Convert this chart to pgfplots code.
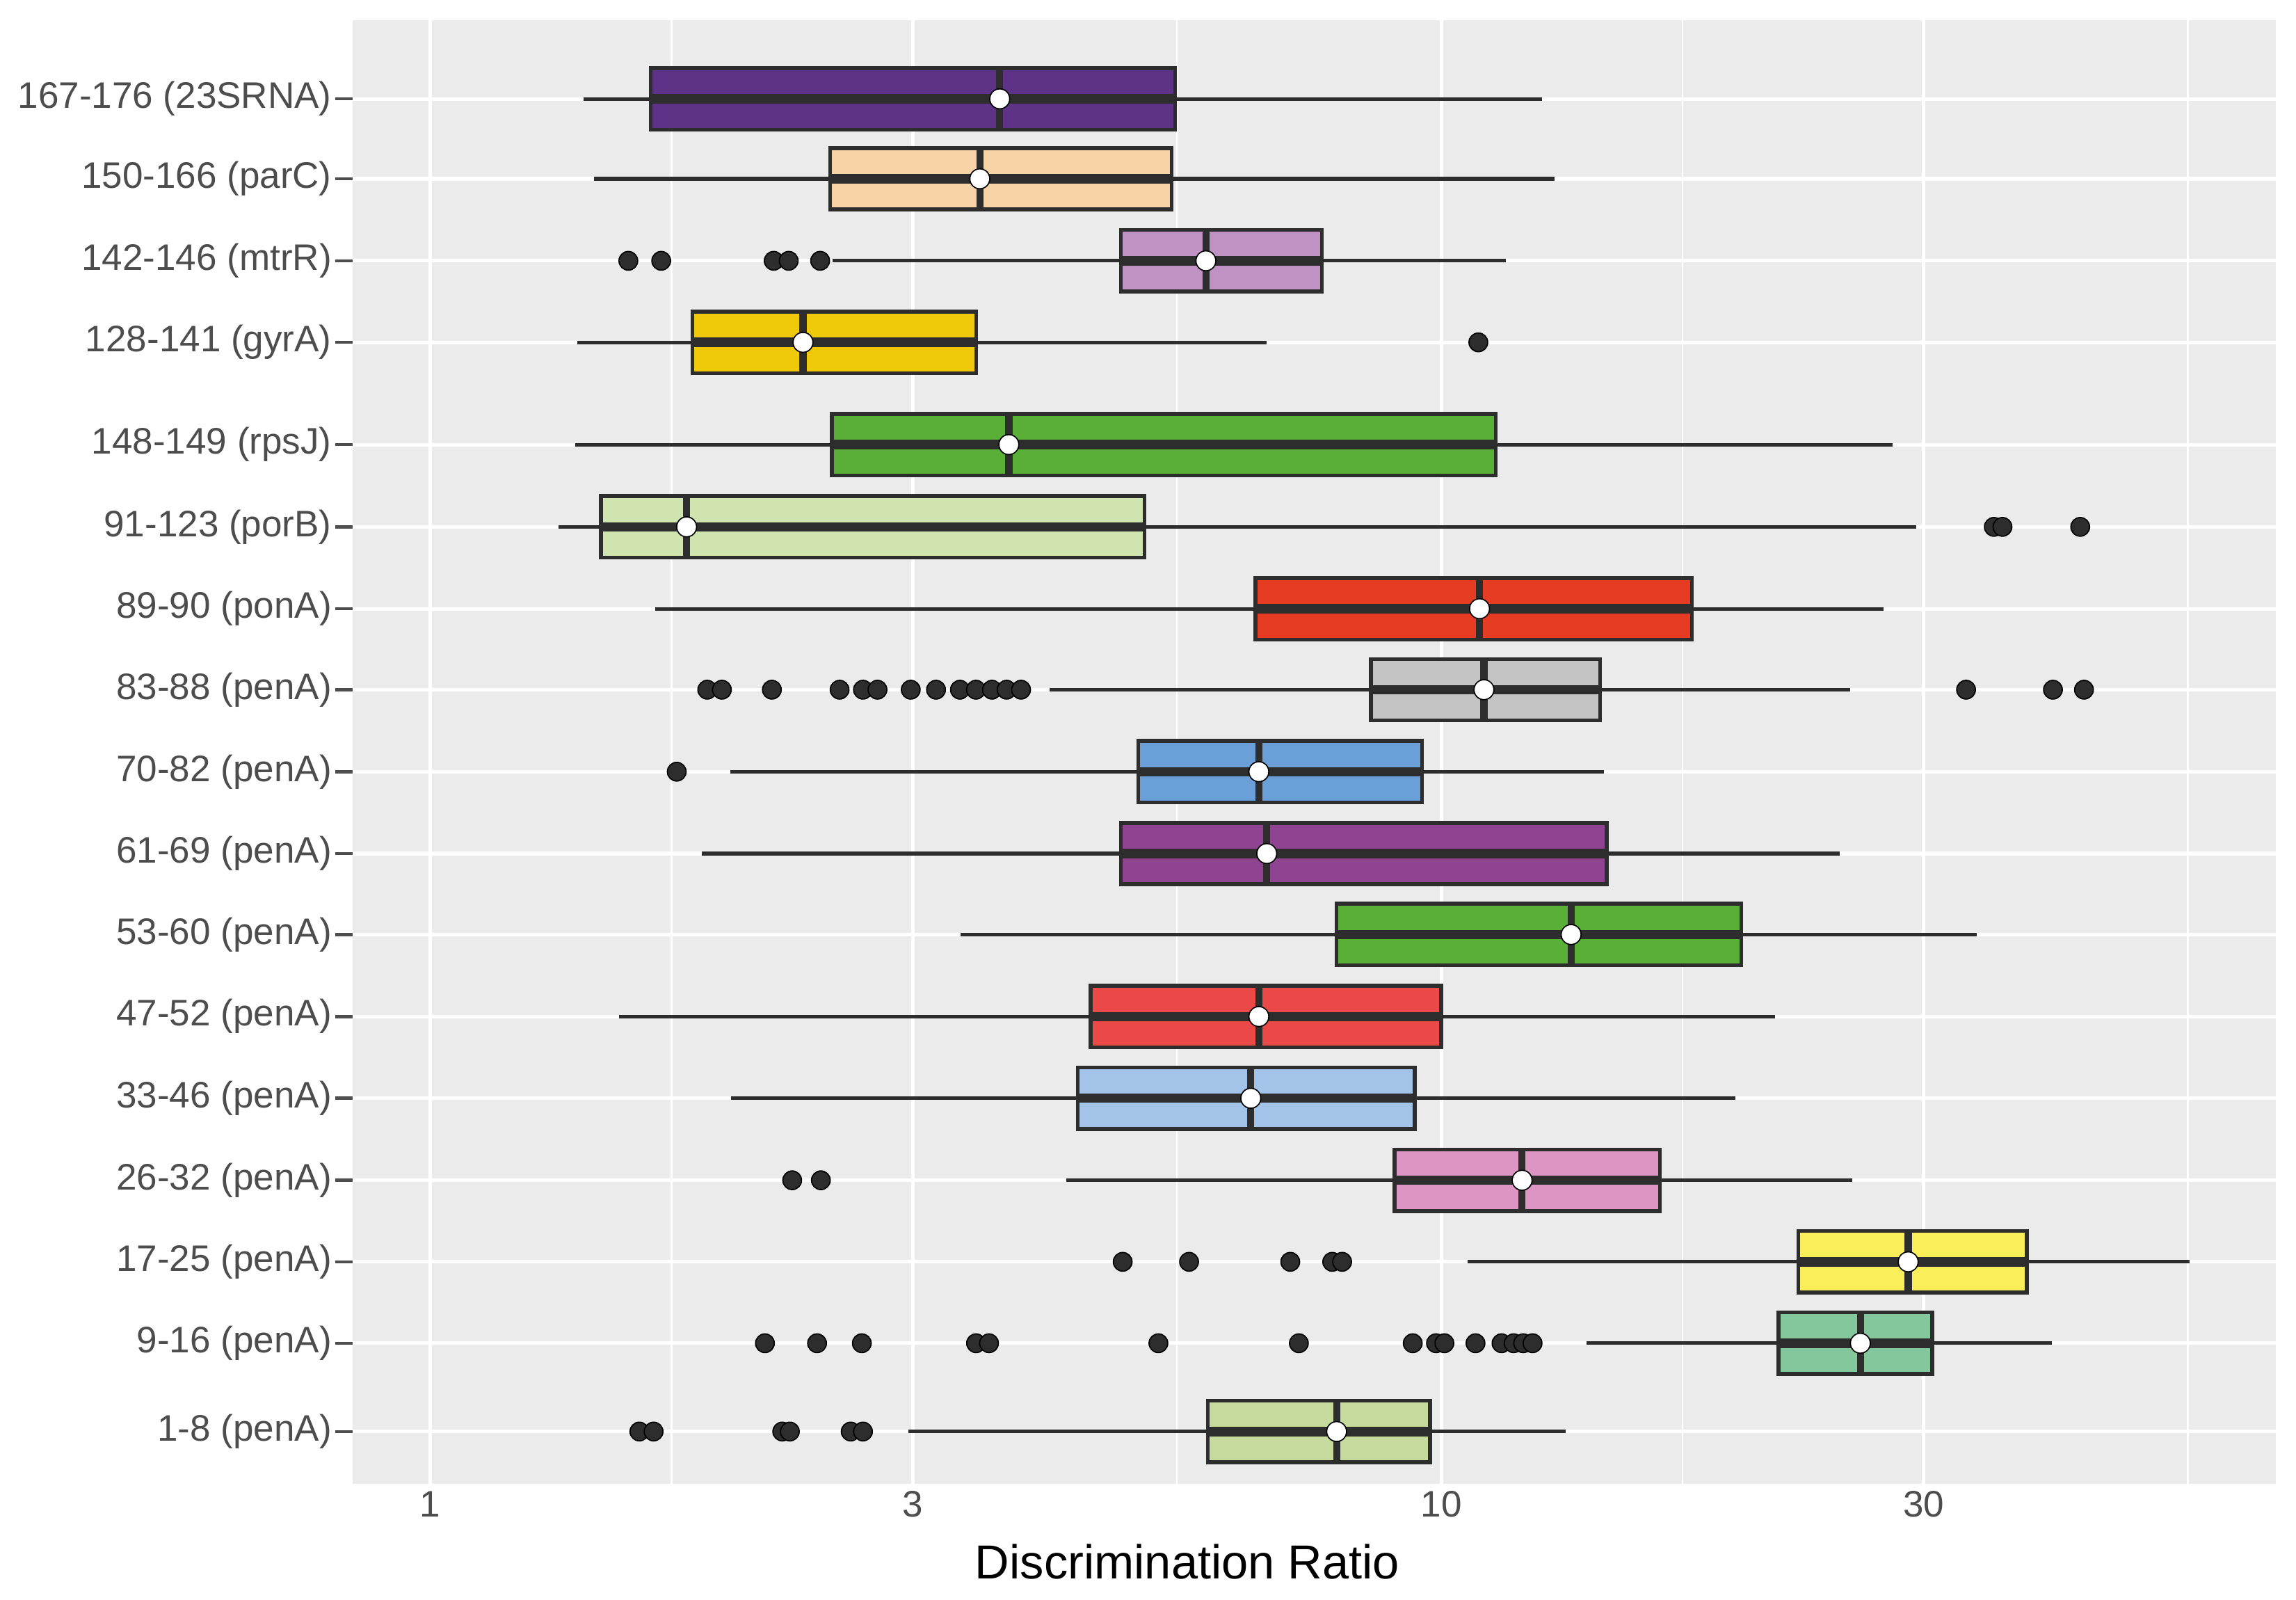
\documentclass[border=0pt]{standalone}
\usepackage{pgfplots}
\pgfplotsset{compat=1.18}
\usepgfplotslibrary{statistics}
\usepackage{fontspec}
\setmainfont{Liberation Sans}

\definecolor{panelbg}{RGB}{236,235,236}
\definecolor{boxline}{RGB}{45,45,45}
\definecolor{labgray}{RGB}{77,77,77}
\definecolor{c1}{RGB}{94,50,134}
\definecolor{c2}{RGB}{247,211,166}
\definecolor{c3}{RGB}{192,146,196}
\definecolor{c4}{RGB}{240,200,10}
\definecolor{c5}{RGB}{90,175,55}
\definecolor{c6}{RGB}{208,228,176}
\definecolor{c7}{RGB}{230,60,35}
\definecolor{c8}{RGB}{195,195,195}
\definecolor{c9}{RGB}{106,159,216}
\definecolor{c10}{RGB}{143,68,146}
\definecolor{c11}{RGB}{90,175,55}
\definecolor{c12}{RGB}{235,72,72}
\definecolor{c13}{RGB}{163,195,232}
\definecolor{c14}{RGB}{221,149,195}
\definecolor{c15}{RGB}{250,238,90}
\definecolor{c16}{RGB}{133,199,157}
\definecolor{c17}{RGB}{197,218,156}

% one horizontal box: position, fill, lower whisker, q1, median, q3, upper whisker
\newcommand\rowbox[7]{%
  \addplot[boxplot prepared={draw position=#1, lower whisker=#3,
      lower quartile=#4, median=#5, upper quartile=#6, upper whisker=#7},
    boxplot/every box/.style={fill=#2, draw=boxline, line width=1.3pt}]
    coordinates {};}

\begin{document}
\begin{tikzpicture}
\begin{axis}[
    at={(0,0)}, anchor=south west,
    scale only axis, width=656.75pt, height=499.55pt,
    xmode=log, xmin=0.838, xmax=66.9,
    ymin=14, ymax=1013.1, y dir=reverse,
    axis background/.style={fill=panelbg},
    axis line style={draw=none},
    tick pos=left,
    xtick={1,3,10,30}, xticklabels={1,3,10,30},
    minor xtick={1.732,5.477,17.32,54.77},
    ytick={67.5,122.1,178.1,233.8,303.6,359.8,415.7,471,527,582.9,638.2,694.2,750,806,861.7,917.3,977.6},
    yticklabels={167-176 (23SRNA),150-166 (parC),142-146 (mtrR),128-141 (gyrA),
      148-149 (rpsJ)\hspace{2.2pt},91-123 (porB),89-90 (ponA),83-88 (penA)\hspace{2.2pt},
      70-82 (penA),61-69 (penA)\hspace{2.2pt},53-60 (penA)\hspace{0.8pt},47-52 (penA),
      33-46 (penA),26-32 (penA),17-25 (penA)\hspace{0.8pt},9-16 (penA),1-8 (penA)\hspace{2.2pt}},
    grid=both,
    major grid style={white, line width=1.2pt},
    minor grid style={white, line width=0.6pt},
    tick align=outside,
    major tick length=6pt, minor tick length=0pt,
    xtick style={draw=none},
    ytick style={draw=labgray, line width=1.1pt},
    tick label style={font=\fontsize{12.6}{14}\selectfont, text=labgray},
    xticklabel style={inner sep=0pt, yshift=3.5pt},
    yticklabel style={inner sep=1pt},
    xlabel={Discrimination Ratio},
    xlabel style={font=\fontsize{16.3}{19}\selectfont, text=black,
      at={(axis description cs:0.434,0)}, anchor=base, yshift=-32.5pt},
    boxplot/draw direction=x,
    boxplot/every whisker/.style={draw=boxline, line width=1.2pt},
    boxplot/every median/.style={draw=boxline, line width=2.4pt},
    boxplot/draw/box/.code={%
      \draw[/pgfplots/boxplot/every box/.try]
        (boxplot box cs:\pgfplotsboxplotvalue{lower quartile},0) rectangle
        (boxplot box cs:\pgfplotsboxplotvalue{upper quartile},1);
      \draw[draw=boxline, line width=3.2pt]
        (boxplot box cs:\pgfplotsboxplotvalue{lower quartile},0.5) --
        (boxplot box cs:\pgfplotsboxplotvalue{upper quartile},0.5);
    },
    boxplot/draw/lower whisker/.code={%
      \draw[/pgfplots/boxplot/every whisker/.try]
        (boxplot box cs:\pgfplotsboxplotvalue{lower whisker},0.5) --
        (boxplot box cs:\pgfplotsboxplotvalue{lower quartile},0.5);
    },
    boxplot/draw/upper whisker/.code={%
      \draw[/pgfplots/boxplot/every whisker/.try]
        (boxplot box cs:\pgfplotsboxplotvalue{upper quartile},0.5) --
        (boxplot box cs:\pgfplotsboxplotvalue{upper whisker},0.5);
    },
    boxplot/box extend=42,
]
\rowbox{67.5}{c1}{1.417}{1.652}{3.658}{5.456}{12.58}
\rowbox{122.1}{c2}{1.452}{2.486}{3.496}{5.412}{12.94}
\rowbox{178.1}{c3}{2.50}{4.82}{5.85}{7.62}{11.58}
\rowbox{233.8}{c4}{1.398}{1.816}{2.337}{3.467}{6.72}
\rowbox{303.6}{c5}{1.392}{2.496}{3.735}{11.32}{27.95}
\rowbox{359.8}{c6}{1.34}{1.475}{1.793}{5.085}{29.5}
\rowbox{415.7}{c7}{1.668}{6.55}{10.91}{17.7}{27.36}
\rowbox{471}{c8}{4.10}{8.52}{11.02}{14.36}{25.39}
\rowbox{527}{c9}{1.982}{5.013}{6.60}{9.57}{14.49}
\rowbox{582.9}{c10}{1.855}{4.82}{6.72}{14.57}{24.79}
\rowbox{638.2}{c11}{3.345}{7.88}{13.44}{19.80}{33.83}
\rowbox{694.2}{c12}{1.537}{4.50}{6.60}{10.0}{21.40}
\rowbox{750}{c13}{1.985}{4.37}{6.48}{9.41}{19.54}
\rowbox{806}{c14}{4.254}{8.99}{12.02}{16.45}{25.5}
\rowbox{861.7}{c15}{10.61}{22.55}{28.96}{37.95}{54.96}
\rowbox{917.3}{c16}{13.92}{21.55}{25.97}{30.6}{40.2}
\rowbox{977.6}{c17}{2.971}{5.874}{7.88}{9.745}{13.27}

% outliers
\addplot[only marks, mark=*, mark size=3.2pt, mark options={fill=boxline, draw=none}] coordinates {
  (1.570,178.1) (1.692,178.1) (2.186,178.1) (2.262,178.1) (2.43,178.1)
  (10.88,233.8)
  (35.2,359.8) (35.9,359.8) (42.85,359.8)
  (1.879,471) (1.943,471) (2.177,471) (2.540,471) (2.679,471) (2.769,471)
  (2.987,471) (3.164,471) (3.341,471) (3.465,471) (3.594,471) (3.716,471)
  (3.841,471) (33.04,471) (40.27,471) (43.22,471)
  (1.753,527)
  (2.280,806) (2.434,806)
  (4.84,861.7) (5.63,861.7) (7.09,861.7) (7.80,861.7) (7.98,861.7)
  (2.143,917.3) (2.413,917.3) (2.672,917.3) (3.466,917.3) (3.570,917.3)
  (5.25,917.3) (7.23,917.3) (9.37,917.3) (9.88,917.3) (10.07,917.3)
  (10.81,917.3) (11.47,917.3) (11.79,917.3) (12.05,917.3) (12.31,917.3)
  (1.610,977.6) (1.663,977.6) (2.229,977.6) (2.268,977.6) (2.605,977.6) (2.679,977.6)
};
% white dots on the medians
\addplot[only marks, mark=*, mark size=3.4pt, mark options={fill=white, draw=none}] coordinates {
  (3.658,67.5) (3.496,122.1) (5.85,178.1) (2.337,233.8) (3.735,303.6)
  (1.793,359.8) (10.91,415.7) (11.02,471) (6.60,527) (6.72,582.9)
  (13.44,638.2) (6.60,694.2) (6.48,750) (12.02,806) (28.96,861.7)
  (25.97,917.3) (7.88,977.6)
};
\end{axis}
\pgfresetboundingbox
\path (-120.45pt,-39.55pt) rectangle (663.65pt,506.55pt);
\end{tikzpicture}
\end{document}
